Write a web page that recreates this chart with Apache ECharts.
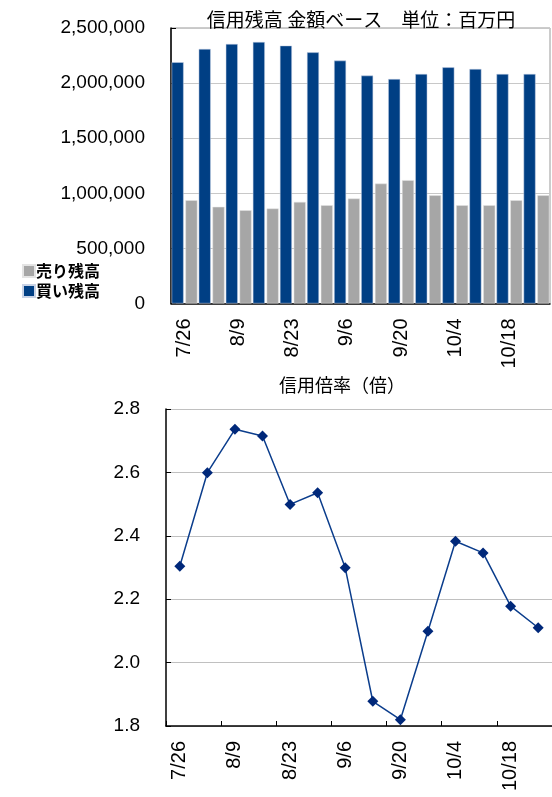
<!DOCTYPE html>
<html>
<head>
<meta charset="utf-8">
<script src="https://cdn.jsdelivr.net/npm/echarts@6/dist/echarts.min.js"></script>
<style>
html,body{margin:0;padding:0;background:#fff}
#main{width:552px;height:797px}
</style>
</head>
<body>
<div id="main"></div>
<script>
// 週ごとの日付
const dates = ['7/26','8/2','8/9','8/16','8/23','8/30','9/6','9/13','9/20','9/27','10/4','10/11','10/18','10/25']
// 買い残高・売り残高（百万円）
const buyValues = [2189000,2310000,2355000,2373000,2340000,2279000,2204000,2068000,2037000,2083000,2143000,2128000,2083000,2083000]
const sellValues = [937000,877000,846000,862000,922000,892000,952000,1088000,1119000,982000,892000,892000,937000,982000]
// 信用倍率（倍）
const ratioValues = [2.304,2.599,2.736,2.715,2.499,2.536,2.299,1.878,1.82,2.099,2.383,2.346,2.178,2.11]

const fontNum = "'Liberation Sans', Arial, 'Noto Sans CJK JP', sans-serif"
const fontJp = "'Noto Sans CJK JP', 'Liberation Sans', sans-serif"

let myChart = echarts.init(document.getElementById('main'))

const xLabel = {
  rotate: 90,
  interval: 1,
  fontSize: 20,
  fontFamily: fontNum,
  color: '#000',
  margin: 15
}

let option = {
  animation: false,
  backgroundColor: '#fff',
  title: [
    {
      text: '信用残高 金額ベース　単位：百万円',
      left: 356,
      top: 5,
      textAlign: 'center',
      textStyle: {fontSize: 19, fontWeight: 'normal', color: '#000', fontFamily: fontJp}
    },
    {
      text: '信用倍率（倍）',
      left: 337,
      top: 371,
      textAlign: 'center',
      textStyle: {fontSize: 18, fontWeight: 'normal', color: '#000', fontFamily: fontJp}
    }
  ],
  legend: {
    orient: 'vertical',
    left: 17,
    top: 258,
    itemWidth: 12,
    itemHeight: 12,
    itemGap: 4,
    icon: 'rect',
    data: ['売り残高', '買い残高'],
    textStyle: {fontSize: 16, fontWeight: 'bold', color: '#000', fontFamily: fontJp, padding: [0,0,0,-4]}
  },
  grid: [
    {left: 171, top: 28, width: 379, height: 275.5, show: true, borderColor: '#999', borderWidth: 1, backgroundColor: 'transparent'},
    {left: 166, top: 409, width: 390, height: 317}
  ],
  xAxis: [
    {
      type: 'category',
      gridIndex: 0,
      data: dates,
      axisLine: {lineStyle: {color: '#000', width: 1.5}},
      axisTick: {show: false},
      axisLabel: xLabel
    },
    {
      type: 'category',
      gridIndex: 1,
      data: dates,
      axisLine: {lineStyle: {color: '#000', width: 1.5}},
      axisTick: {show: true, inside: true, length: 5, lineStyle: {color: '#000'}},
      axisLabel: xLabel
    }
  ],
  yAxis: [
    {
      type: 'value',
      gridIndex: 0,
      min: 0,
      max: 2500000,
      interval: 500000,
      axisLine: {show: true, lineStyle: {color: '#000', width: 1.5}},
      axisTick: {show: true, inside: true, length: 5, lineStyle: {color: '#000'}},
      splitLine: {lineStyle: {color: '#c8c8c8', width: 1}},
      axisLabel: {
        fontSize: 19,
        fontFamily: fontNum,
        color: '#000',
        margin: 26,
        formatter: v => v.toLocaleString('en-US')
      }
    },
    {
      type: 'value',
      gridIndex: 1,
      min: 1.8,
      max: 2.8,
      interval: 0.2,
      axisLine: {show: true, lineStyle: {color: '#000', width: 1.5}},
      axisTick: {show: true, inside: true, length: 5, lineStyle: {color: '#000'}},
      splitLine: {lineStyle: {color: '#c0c0c0', width: 1}},
      axisLabel: {
        fontSize: 19,
        fontFamily: fontNum,
        color: '#000',
        margin: 26,
        formatter: v => v.toFixed(1)
      }
    }
  ],
  series: [
    {
      name: '買い残高',
      type: 'bar',
      xAxisIndex: 0,
      yAxisIndex: 0,
      data: buyValues,
      barWidth: 12,
      barGap: '15%',
      itemStyle: {color: '#003f84', borderColor: '#c9d3e6', borderWidth: 0.5}
    },
    {
      name: '売り残高',
      type: 'bar',
      xAxisIndex: 0,
      yAxisIndex: 0,
      data: sellValues,
      barWidth: 12,
      barGap: '15%',
      itemStyle: {color: '#a6a6a6', borderColor: '#e4e4e4', borderWidth: 0.5}
    },
    {
      name: '信用倍率',
      type: 'line',
      xAxisIndex: 1,
      yAxisIndex: 1,
      data: ratioValues,
      symbol: 'diamond',
      symbolSize: 11,
      lineStyle: {color: '#0b3d8c', width: 1.5},
      itemStyle: {color: '#00287a'}
    }
  ]
}
myChart.setOption(option)
</script>
</body>
</html>
